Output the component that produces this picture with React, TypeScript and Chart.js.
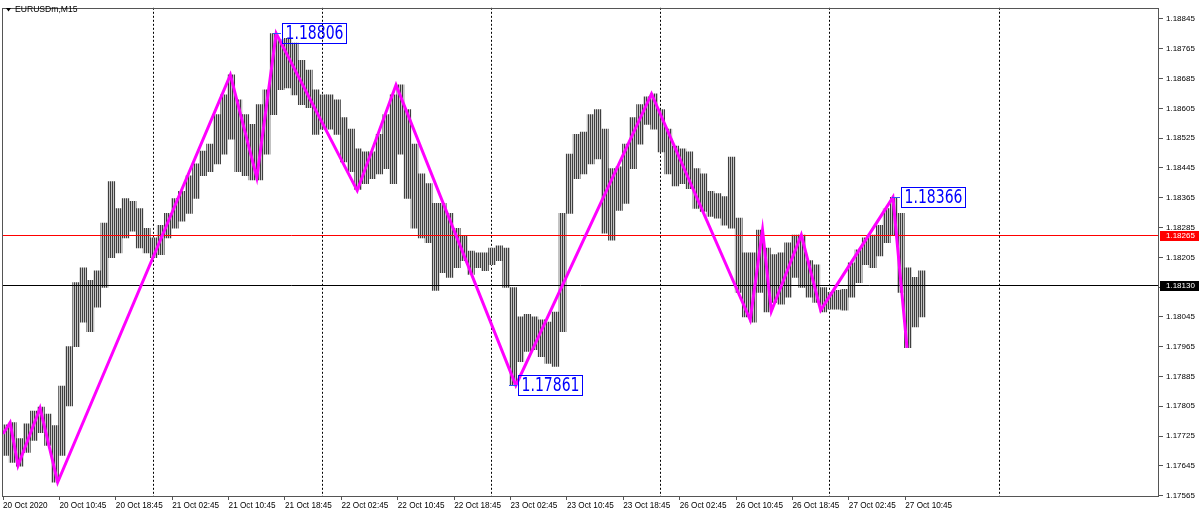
import React, { useEffect, useRef } from "react";
import { Chart, registerables } from "chart.js";

Chart.register(...registerables);

// ---- data ----
const symbolTitle = "EURUSDm,M15";

// x axis is measured in M15 bar numbers counted from 20 Oct 02:45
const xTickIdx = [0, 32, 64, 96, 128, 160, 192, 224, 256, 288, 320, 352, 384, 416, 448, 480, 512];
const xTickLabels = [
  "20 Oct 2020", "20 Oct 10:45", "20 Oct 18:45", "21 Oct 02:45", "21 Oct 10:45", "21 Oct 18:45",
  "22 Oct 02:45", "22 Oct 10:45", "22 Oct 18:45", "23 Oct 02:45", "23 Oct 10:45", "23 Oct 18:45",
  "26 Oct 02:45", "26 Oct 10:45", "26 Oct 18:45", "27 Oct 02:45", "27 Oct 10:45",
];
const daySeparatorIdx = [85, 181, 277, 373, 469, 565];

const yTicks = [
  1.17565, 1.17645, 1.17725, 1.17805, 1.17885, 1.17965, 1.18045, 1.18125, 1.18205,
  1.18285, 1.18365, 1.18445, 1.18525, 1.18605, 1.18685, 1.18765, 1.18845,
];
const yMin = 1.17564;
const yMax = 1.18875;

// hourly high / low (each hour = 4 M15 bars)
const barHigh = [
  1.17755, 1.17761, 1.17718, 1.17758, 1.17792, 1.17803, 1.17784, 1.17753, 1.17859, 1.17965,
  1.18137, 1.18177, 1.18143, 1.18169, 1.18297, 1.18408, 1.18336, 1.18363, 1.18355, 1.18336,
  1.18283, 1.18257, 1.18291, 1.18323, 1.18363, 1.18382, 1.18424, 1.18456, 1.18490, 1.18509,
  1.18588, 1.18641, 1.18695, 1.18628, 1.18588, 1.18562, 1.18615, 1.18655, 1.18806, 1.18790,
  1.18793, 1.18780, 1.18734, 1.18708, 1.18655, 1.18641, 1.18641, 1.18628, 1.18580, 1.18549,
  1.18496, 1.18488, 1.18488, 1.18535, 1.18588, 1.18641, 1.18668, 1.18602, 1.18509, 1.18429,
  1.18403, 1.18350, 1.18350, 1.18323, 1.18283, 1.18262, 1.18222, 1.18217, 1.18217, 1.18230,
  1.18236, 1.18230, 1.18124, 1.18045, 1.18052, 1.18045, 1.18037, 1.18031, 1.18058, 1.18323,
  1.18482, 1.18535, 1.18541, 1.18588, 1.18602, 1.18549, 1.18443, 1.18448, 1.18509, 1.18580,
  1.18615, 1.18636, 1.18644, 1.18602, 1.18549, 1.18504, 1.18496, 1.18488, 1.18443, 1.18429,
  1.18382, 1.18376, 1.18368, 1.18474, 1.18310, 1.18217, 1.18217, 1.18278, 1.18230, 1.18212,
  1.18217, 1.18244, 1.18265, 1.18265, 1.18196, 1.18185, 1.18124, 1.18111, 1.18116, 1.18119,
  1.18190, 1.18225, 1.18257, 1.18265, 1.18291, 1.18336, 1.18366, 1.18323, 1.18177, 1.18151,
  1.18169,
];
const barLow = [
  1.17673, 1.17654, 1.17644, 1.17681, 1.17713, 1.17734, 1.17700, 1.17601, 1.17673, 1.17806,
  1.17965, 1.18031, 1.18005, 1.18071, 1.18124, 1.18204, 1.18217, 1.18257, 1.18275, 1.18230,
  1.18217, 1.18204, 1.18212, 1.18257, 1.18283, 1.18302, 1.18323, 1.18363, 1.18424, 1.18435,
  1.18456, 1.18482, 1.18522, 1.18435, 1.18424, 1.18413, 1.18413, 1.18482, 1.18588, 1.18655,
  1.18660, 1.18641, 1.18615, 1.18607, 1.18535, 1.18549, 1.18549, 1.18535, 1.18461, 1.18435,
  1.18387, 1.18403, 1.18416, 1.18429, 1.18443, 1.18403, 1.18482, 1.18363, 1.18283, 1.18257,
  1.18244, 1.18116, 1.18164, 1.18151, 1.18177, 1.18196, 1.18159, 1.18177, 1.18169, 1.18185,
  1.18196, 1.18124, 1.17861, 1.17925, 1.17952, 1.17957, 1.17938, 1.17920, 1.17912, 1.18005,
  1.18323, 1.18416, 1.18429, 1.18456, 1.18469, 1.18270, 1.18251, 1.18331, 1.18350, 1.18443,
  1.18509, 1.18562, 1.18549, 1.18488, 1.18429, 1.18397, 1.18403, 1.18389, 1.18336, 1.18328,
  1.18315, 1.18310, 1.18291, 1.18283, 1.18111, 1.18045, 1.18031, 1.18111, 1.18058, 1.18084,
  1.18079, 1.18098, 1.18151, 1.18124, 1.18098, 1.18084, 1.18058, 1.18066, 1.18066, 1.18063,
  1.18098, 1.18137, 1.18185, 1.18177, 1.18209, 1.18244, 1.18265, 1.18111, 1.17962, 1.18018,
  1.18045,
];

// zigzag turning points
const zigzagIdx = [0, 4, 8.5, 21, 31, 129, 144, 155, 201, 223, 291, 368, 424, 431, 436, 453, 464, 505, 513];
const zigzagPrice = [
  1.17731, 1.17761, 1.17646, 1.17800, 1.17601, 1.18695, 1.18419, 1.18806, 1.18384, 1.18668,
  1.17861, 1.18644, 1.18037, 1.18278, 1.18060, 1.18265, 1.18063, 1.18366, 1.17962,
];

// price labels
const peakLabelIdx = [155.5, 289.4, 506.7];
const peakLabelPrice = [1.18806, 1.17861, 1.18366];

const askLinePrice = 1.18265;
const bidLinePrice = 1.1813;

const AXIS_FONT = "'Liberation Sans', Arial, sans-serif";

function makeStripePattern(ctx: CanvasRenderingContext2D): CanvasPattern | string {
  const c = document.createElement("canvas");
  c.width = 2;
  c.height = 1;
  const g = c.getContext("2d");
  if (!g) return "#808080";
  g.fillStyle = "#3f3f3f";
  g.fillRect(0, 0, 1, 1);
  g.fillStyle = "#c4c4c4";
  g.fillRect(1, 0, 1, 1);
  return ctx.createPattern(c, "repeat") || "#808080";
}

export default function App() {
  const ref = useRef<HTMLCanvasElement | null>(null);

  useEffect(() => {
    document.body.style.margin = "0";
    const canvas = ref.current;
    if (!canvas) return;
    const ctx2d = canvas.getContext("2d") as CanvasRenderingContext2D;
    const stripes = makeStripePattern(ctx2d);

    const overlay = {
      id: "overlay",
      beforeDatasetsDraw(chart: any) {
        const { ctx, chartArea: a, scales } = chart;
        const xs = scales.x;
        ctx.save();
        ctx.strokeStyle = "#000";
        ctx.lineWidth = 1;
        ctx.setLineDash([2, 2]);
        daySeparatorIdx.forEach((t) => {
          const px = Math.round(xs.getPixelForValue(t)) + 0.5;
          if (px < a.left || px > a.right) return;
          ctx.beginPath();
          ctx.moveTo(px, a.top);
          ctx.lineTo(px, a.bottom);
          ctx.stroke();
        });
        ctx.restore();
      },
      afterDatasetDraw(chart: any, args: any) {
        if (args.index !== 0) return;
        const { ctx, chartArea: a, scales } = chart;
        const ys = scales.y;
        ctx.save();
        ctx.lineWidth = 1;
        const lines: [number, string][] = [
          [askLinePrice, "#ff0000"],
          [bidLinePrice, "#000000"],
        ];
        lines.forEach(([p, c]) => {
          const py = Math.round(ys.getPixelForValue(p)) + 0.5;
          ctx.strokeStyle = c;
          ctx.beginPath();
          ctx.moveTo(a.left, py);
          ctx.lineTo(a.right, py);
          ctx.stroke();
        });
        ctx.restore();
      },
      afterDraw(chart: any) {
        const { ctx, chartArea: a, scales } = chart;
        const xs = scales.x;
        const ys = scales.y;
        ctx.save();
        // frame
        ctx.strokeStyle = "#555";
        ctx.lineWidth = 1;
        ctx.strokeRect(Math.round(a.left) + 0.5, Math.round(a.top) + 0.5, Math.round(a.right - a.left) - 1, Math.round(a.bottom - a.top));

        // price boxes on the axis
        const boxes: [number, string][] = [
          [askLinePrice, "#ff0000"],
          [bidLinePrice, "#000000"],
        ];
        boxes.forEach(([p, c]) => {
          const py = Math.round(ys.getPixelForValue(p));
          ctx.fillStyle = c;
          ctx.fillRect(a.right + 1, py - 4, 39, 10);
          ctx.fillStyle = "#fff";
          ctx.font = `8px ${AXIS_FONT}`;
          ctx.textAlign = "left";
          ctx.textBaseline = "middle";
          ctx.fillText(p.toFixed(5), a.right + 7, py + 1);
        });

        // title
        ctx.fillStyle = "#000";
        ctx.beginPath();
        ctx.moveTo(6, 8);
        ctx.lineTo(11, 8);
        ctx.lineTo(8.5, 11.5);
        ctx.closePath();
        ctx.fill();
        ctx.font = `8.6px ${AXIS_FONT}`;
        ctx.textAlign = "left";
        ctx.textBaseline = "middle";
        ctx.fillText(symbolTitle, 15, 10);

        // peak labels
        ctx.beginPath();
        ctx.rect(a.left, a.top, a.right - a.left, a.bottom - a.top);
        ctx.clip();
        peakLabelIdx.forEach((t, i) => {
          const px = xs.getPixelForValue(t);
          const py = Math.round(ys.getPixelForValue(peakLabelPrice[i]));
          ctx.strokeStyle = "#3050ff";
          ctx.lineWidth = 1;
          ctx.beginPath();
          ctx.moveTo(Math.round(px - 4), py + 0.5);
          ctx.lineTo(Math.round(px + 4), py + 0.5);
          ctx.stroke();
          const bx = Math.round(px + 5) + 0.5;
          ctx.strokeStyle = "#0000ff";
          ctx.strokeRect(bx, py - 10 + 0.5, 64, 20);
          const txt = peakLabelPrice[i].toFixed(5);
          ctx.font = "20px 'Liberation Sans Narrow', 'DejaVu Sans Condensed', 'Liberation Sans', sans-serif";
          const w = ctx.measureText(txt).width;
          const target = 58;
          ctx.save();
          ctx.translate(bx + 3, py + 1);
          ctx.scale(target / w, 1);
          ctx.fillStyle = "#0000ff";
          ctx.textAlign = "left";
          ctx.textBaseline = "middle";
          ctx.fillText(txt, 0, 0);
          ctx.restore();
        });
        ctx.restore();
      },
    };

    const chart = new Chart(canvas, {
      type: "bar",
      data: {
        datasets: [
          {
            type: "bar",
            data: barHigh.map((h, k) => ({ x: 4 * k + 1.5, y: [barLow[k], h] })) as any,
            backgroundColor: stripes,
            borderWidth: 0,
            barThickness: 7,
            order: 2,
          } as any,
          {
            type: "line",
            data: zigzagIdx.map((t, i) => ({ x: t, y: zigzagPrice[i] })) as any,
            borderColor: "#ff00ff",
            borderWidth: 3,
            pointRadius: 0,
            fill: false,
            tension: 0,
            order: 1,
          } as any,
        ],
      },
      options: {
        animation: false,
        responsive: false,
        devicePixelRatio: 1,
        layout: { padding: { left: 2, top: 2, right: 0, bottom: 0 } },
        plugins: { legend: { display: false }, tooltip: { enabled: false } },
        scales: {
          x: {
            type: "linear",
            position: "bottom",
            min: -0.6,
            max: 656,
            offset: false,
            grid: { drawOnChartArea: false, drawTicks: true, tickLength: 4, color: "#555", offset: false },
            border: { display: false },
            ticks: {
              autoSkip: false,
              maxRotation: 0,
              minRotation: 0,
              align: "start",
              padding: 1,
              color: "#000",
              font: { family: AXIS_FONT, size: 8.2 },
              callback: (v: any) => {
                const i = xTickIdx.indexOf(Number(v));
                return i >= 0 ? xTickLabels[i] : "";
              },
            },
            afterBuildTicks: (s: any) => {
              s.ticks = xTickIdx.map((v) => ({ value: v }));
            },
            afterFit: (s: any) => {
              s.height = 20;
            },
          },
          y: {
            type: "linear",
            position: "right",
            min: yMin,
            max: yMax,
            beginAtZero: false,
            grid: { drawOnChartArea: false, drawTicks: true, tickLength: 4, color: "#555" },
            border: { display: false },
            ticks: {
              autoSkip: false,
              padding: 3,
              color: "#000",
              font: { family: AXIS_FONT, size: 8 },
              callback: (v: any) => Number(v).toFixed(5),
            },
            afterBuildTicks: (s: any) => {
              s.ticks = yTicks.map((v) => ({ value: v }));
            },
            afterFit: (s: any) => {
              s.width = 41;
            },
          },
        },
      } as any,
      plugins: [overlay],
    });

    return () => chart.destroy();
  }, []);

  return (
    <div style={{ position: "absolute", left: 0, top: 0, width: 1200, height: 516, background: "#fff" }}>
      <canvas ref={ref} width={1200} height={516} style={{ display: "block", width: 1200, height: 516 }} />
    </div>
  );
}
